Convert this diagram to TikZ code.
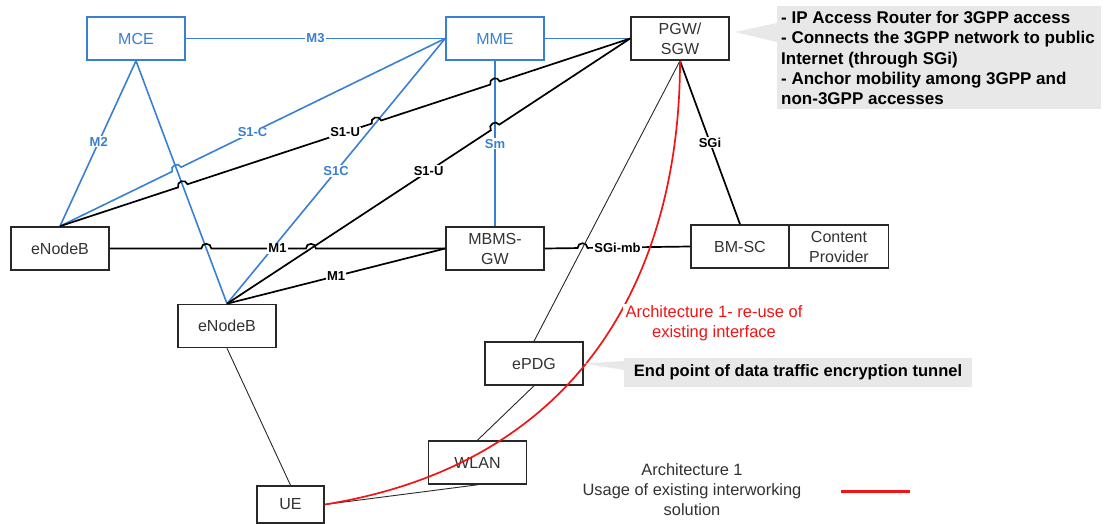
\documentclass[tikz,border=0pt]{standalone}
\usepackage{fontspec}
\setmainfont{Liberation Sans}
\usetikzlibrary{calc}
\definecolor{lteblue}{RGB}{58,128,210}
\definecolor{boxline}{RGB}{40,40,40}
\definecolor{boxtext}{RGB}{50,50,50}
\definecolor{notefill}{RGB}{232,232,232}
\definecolor{archred}{RGB}{240,20,20}

\begin{document}
\begin{tikzpicture}[x=1pt,y=-1pt,
  box/.style={draw=boxline, line width=1.6pt, fill=white, minimum width=98pt,
    minimum height=43pt, inner sep=0pt, align=center, text=boxtext,
    font=\fontsize{16}{20}\selectfont},
  bluebox/.style={box, draw=lteblue, text=lteblue, line width=1.7pt},
  link/.style={line width=1.7pt, draw=black},
  bluelink/.style={line width=1.6pt, draw=lteblue},
  thinlink/.style={line width=0.9pt, draw=boxline},
  lbl/.style={fill=white, inner sep=1pt, font=\bfseries\fontsize{13}{15}\selectfont, text=black},
  bluelbl/.style={lbl, text=lteblue},
  hopto/.style={bend left=90, looseness=1.6},
  % line jump over a crossing: #1 crossing point, #2 start, #3 end of the line
  hopover/.style n args={3}{insert path={-- ($(#1)!5pt!(#2)$) to[hopto] ($(#1)!5pt!(#3)$)}},
  note/.style={font=\bfseries\fontsize{17}{20.3}\selectfont,
    text=black, align=left, inner sep=0pt},
  redlbl/.style={fill=white, inner xsep=3pt, inner ysep=1pt, text=archred,
    align=center, font=\fontsize{16.5}{20}\selectfont},
  legendtext/.style={text=boxtext, align=center, font=\fontsize{16.4}{20}\selectfont}
]
\fill[white] (0,0) rectangle (1110,524);
\useasboundingbox (0,0) rectangle (1110,524);

% network elements
\node[bluebox] (mce) at (136,38.5) {MCE};
\node[bluebox] (mme) at (495,38.5) {MME};
\node[box] (pgw) at (680,38.5) {PGW/\\SGW};
\node[box] (enb1) at (60,248.5) {eNodeB};
\node[box] (enb2) at (227,326) {eNodeB};
\node[box] (mbms) at (495,248.5) {MBMS-\\GW};
\node[box] (bmsc) at (740,246.5) {BM-SC};
\node[box, minimum width=99pt] (cp) at (839,246.5) {Content\\Provider};
\node[box] (epdg) at (534,363.5) {ePDG};
\node[box] (wlan) at (477.5,462.5) {WLAN};
\node[box, minimum width=67pt, minimum height=37pt] (ue) at (290.5,504.5) {UE};

% crossing points where a line jumps over another one
\coordinate (j1) at (intersection of enb1.north--mme.west and mce.south--enb2.north);
\coordinate (j2) at (intersection of enb1.north--pgw.west and mce.south--enb2.north);
\coordinate (j3) at (intersection of enb1.north--pgw.west and enb2.north--mme.west);
\coordinate (j4) at (intersection of enb1.north--pgw.west and mme.south--mbms.north);
\coordinate (j5) at (intersection of enb2.north--pgw.west and mme.south--mbms.north);
\coordinate (j6) at (intersection of enb1.east--mbms.west and mce.south--enb2.north);
\coordinate (j7) at (intersection of enb1.east--mbms.west and enb2.north--pgw.west);
\coordinate (j8) at (intersection of mbms.east--bmsc.west and pgw.south--epdg.north);

% control plane (blue)
\draw[bluelink] (mce.east) -- (mme.west);
\draw[bluelink] (mme.east) -- (pgw.west);
\draw[bluelink] (mce.south) -- (enb1.north);
\draw[bluelink] (mce.south) -- (enb2.north);
\draw[bluelink] (enb1.north) [hopover={j1}{enb1.north}{mme.west}] -- (mme.west);
\draw[bluelink] (enb2.north) -- (mme.west);
\draw[bluelink] (mme.south) -- (mbms.north);

% user plane (black)
\draw[link] (enb1.north) [hopover={j2}{enb1.north}{pgw.west}]
  [hopover={j3}{enb1.north}{pgw.west}] [hopover={j4}{enb1.north}{pgw.west}] -- (pgw.west);
\draw[link] (enb2.north) [hopover={j5}{enb2.north}{pgw.west}] -- (pgw.west);
\draw[link] (enb1.east) [hopover={j6}{enb1.east}{mbms.west}]
  [hopover={j7}{enb1.east}{mbms.west}] -- (mbms.west);
\draw[link] (enb2.north) -- (mbms.west);
\draw[link] (mbms.east) [hopover={j8}{mbms.east}{bmsc.west}] -- (bmsc.west);
\draw[link] (pgw.south) -- (bmsc.north);

% non-3GPP access path
\draw[thinlink] (pgw.south) -- (epdg.north);
\draw[thinlink] (epdg.south) -- (wlan.north);
\draw[thinlink] (wlan.south) -- (ue.east);
\draw[thinlink] (enb2.south) -- (ue.north);

% interface labels
\node[bluelbl] (lm3) at ($(mce.east)!0.5!(mme.west)$) {M3};
\node[bluelbl] (lm2) at ($(mce.south)!0.49!(enb1.north)$) {M2};
\node[bluelbl] (ls1c) at ($(enb1.north)!0.5!(mme.west)$) {S1-C};
\node[bluelbl] (ls1cb) at ($(enb2.north)!0.5!(mme.west)$) {S1C};
\node[bluelbl] (lsm) at ($(mme.south)!0.5!(mbms.north)$) {Sm};
\node[lbl] (ls1u) at ($(enb1.north)!0.5!(pgw.west)$) {S1-U};
\node[lbl] (ls1ub) at ($(enb2.north)!0.5!(pgw.west)$) {S1-U};
\node[lbl] (lm1) at ($(enb1.east)!0.5!(mbms.west)$) {M1};
\node[lbl] (lm1b) at ($(enb2.north)!0.5!(mbms.west)$) {M1};
\node[lbl] (lsgimb) at ($(mbms.east)!0.5!(bmsc.west)$) {SGi-mb};
\node[lbl] (lsgi) at ($(pgw.south)!0.5!(bmsc.north)$) {SGi};

% architecture 1 path
\draw[archred, line width=1.7pt] (ue.east) .. controls (600,460) and (680,250) .. (pgw.south);
\node[redlbl] (arch) at (714,323) {Architecture 1- re-use of\\existing interface};

% notes
\fill[notefill] (777,6) rectangle (1101,109);
\fill[notefill] (735,32) -- (777,23) -- (777,42) -- cycle;
\node[note, anchor=north west] (n1) at (781,11)
  {- IP Access Router for 3GPP access\\- Connects the 3GPP network to public\\Internet (through SGi)\\- Anchor mobility among 3GPP and\\non-3GPP accesses};
\node[note, font=\bfseries\fontsize{16.5}{20}\selectfont, fill=notefill, align=center,
  minimum width=348pt, minimum height=29pt] (n2) at (798,372.5)
  {End point of data traffic encryption tunnel};
\fill[notefill] (epdg.east) -- (624,361) -- (624,370) -- cycle;

% legend
\node[legendtext] (leg) at (692,490) {Architecture 1\\Usage of existing interworking\\solution};
\draw[archred, line width=3pt] (841,491) -- (910,491);
\end{tikzpicture}
\end{document}
